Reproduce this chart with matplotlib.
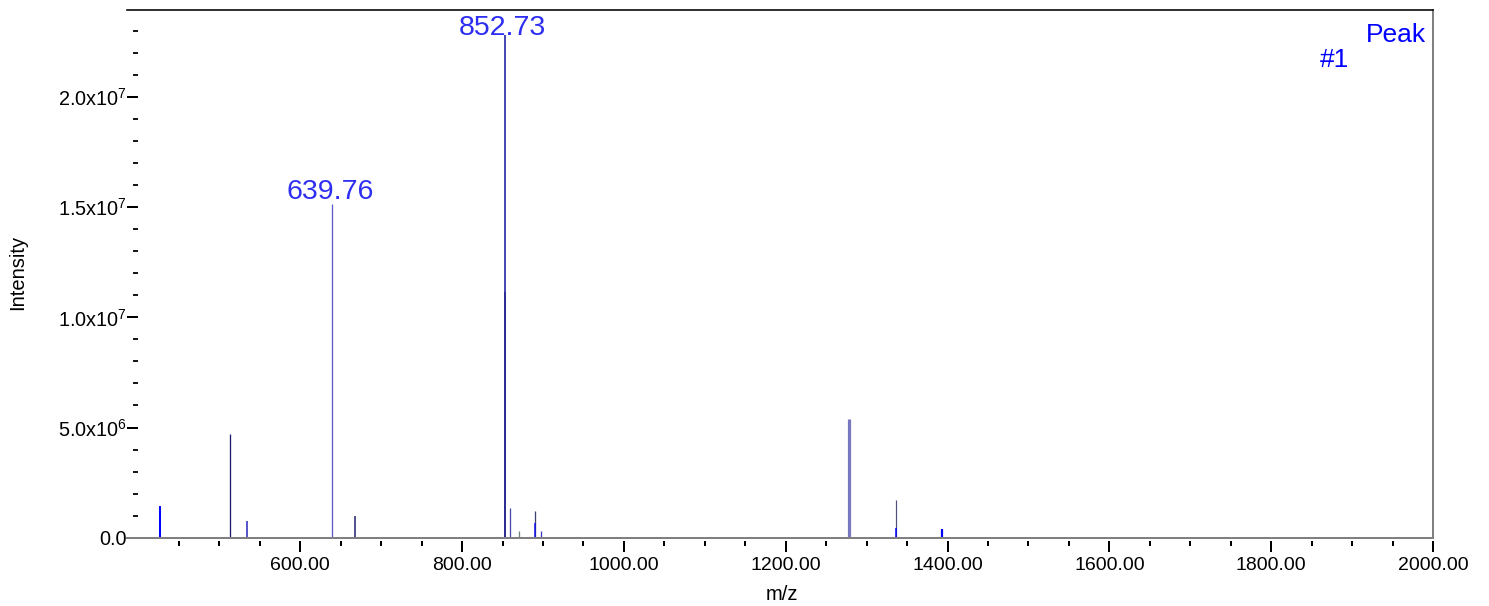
import matplotlib
matplotlib.use("Agg")
import matplotlib.pyplot as plt
from matplotlib.ticker import FixedLocator, FuncFormatter

# ---------------- data ----------------
peak_mz = [427.0, 513.6, 534.6, 639.76, 667.9, 852.73, 853.6, 859.2, 870.3,
           890.3, 890.6, 897.9, 1278.6, 1335.9, 1336.1, 1393.1]
peak_intensity = [1.44e6, 4.71e6, 0.74e6, 1.515e7, 0.98e6, 2.281e7, 1.115e7,
                  1.35e6, 0.30e6, 1.23e6, 0.68e6, 0.30e6, 5.37e6, 1.71e6,
                  0.45e6, 0.39e6]
labelled_mz = [639.76, 852.73]
labelled_intensity = [1.515e7, 2.281e7]

x_major = [600, 800, 1000, 1200, 1400, 1600, 1800, 2000]
y_major = [0, 5e6, 1e7, 1.5e7, 2e7]
y_major_labels = ["0.0", r"5.0x10$^{6}$", r"1.0x10$^{7}$", r"1.5x10$^{7}$", r"2.0x10$^{7}$"]

# ---------------- style ----------------
peak_colors = ['#0000ff', '#1c1c6e', '#5858c8', '#5c5cc8', '#1c1c70', '#4a4ab4',
               '#24248a', '#4848a8', '#6e8080', '#404070', '#1010f0', '#3a3ac0',
               '#7878c0', '#505080', '#0000ff', '#0000ff']
peak_widths_px = [2, 1.3, 2, 1.3, 1.5, 2.0, 1.5, 1.3, 1.3, 1.3, 1.5, 1.3,
                  3.2, 1.2, 1.5, 2.2]
label_offsets = [(-2, 5), (-2, 0)]

plt.rcParams['font.family'] = ['Liberation Sans', 'DejaVu Sans']
plt.rcParams['mathtext.fontset'] = 'custom'
plt.rcParams['mathtext.rm'] = 'Liberation Sans'
plt.rcParams['mathtext.it'] = 'Liberation Sans'

W, H = 1489, 606
fig = plt.figure(figsize=(W / 100, H / 100), dpi=100)
left_px, right_px, top_px, bottom_px = 127, 1433, 10, 537.7
ax = fig.add_axes([left_px / W, 1 - bottom_px / H,
                   (right_px - left_px) / W, (bottom_px - top_px) / H])

px = 0.72  # points per pixel

for m, h, c, w in zip(peak_mz, peak_intensity, peak_colors, peak_widths_px):
    ax.vlines(m, 0, h, colors=c, linewidth=w * px)

ax.set_xlim(385.8, 2000)
ax.set_ylim(0, 2.395e7)

# baseline (gray x axis line)
ax.axhline(0, color='#808080', linewidth=2 * px, clip_on=False, zorder=3)

# spines
ax.spines['top'].set_color('black')
ax.spines['top'].set_linewidth(1.6 * px)
ax.spines['right'].set_color('#808080')
ax.spines['right'].set_linewidth(2 * px)
ax.spines['left'].set_position(('axes', 11 / (right_px - left_px)))
ax.spines['left'].set_visible(False)
ax.spines['bottom'].set_position(('outward', 3.3 * px))
ax.spines['bottom'].set_visible(False)

# ticks
ax.xaxis.set_major_locator(FixedLocator(x_major))
ax.xaxis.set_minor_locator(FixedLocator([v for v in range(450, 2001, 50) if v % 200 != 0]))
ax.xaxis.set_major_formatter(FuncFormatter(lambda v, p: f"{v:.2f}"))
ax.yaxis.set_major_locator(FixedLocator(y_major))
ax.yaxis.set_minor_locator(FixedLocator([i * 1e6 for i in range(1, 24) if i % 5 != 0]))
ax.set_yticklabels(y_major_labels)

ax.tick_params(axis='x', which='major', direction='out', length=11.5 * px,
               width=2 * px, color='black', labelsize=14, pad=3)
ax.tick_params(axis='x', which='minor', direction='out', length=5 * px,
               width=2 * px, color='black')
ax.tick_params(axis='y', which='major', direction='out', length=11 * px,
               width=2 * px, color='black', labelsize=14.3, pad=0)
ax.tick_params(axis='y', which='minor', direction='out', length=5 * px,
               width=1.8 * px, color='black')

# peak labels
for m, h, off in zip(labelled_mz, labelled_intensity, label_offsets):
    ax.annotate(f"{m:.2f}", xy=(m, h), xytext=(off[0] * px, off[1] * px),
                textcoords='offset points', ha='center', va='baseline',
                fontsize=20.5, color='#2e2ef2', annotation_clip=False)

# legend-like text
fig.text(1426 / W, 1 - 41.7 / H, "Peak", ha='right', va='baseline',
         fontsize=19, color='#0000ff')
fig.text(1349 / W, 1 - 66.7 / H, "#1", ha='right', va='baseline',
         fontsize=19, color='#0000ff')

# axis titles
fig.text(18 / W, 1 - 272 / H, "Intensity", rotation=90, ha='center',
         va='center', fontsize=14.5)
fig.text(782 / W, 1 - 594 / H, "m/z", ha='center', va='center', fontsize=14.5)

fig.savefig("out.png", dpi=100)
